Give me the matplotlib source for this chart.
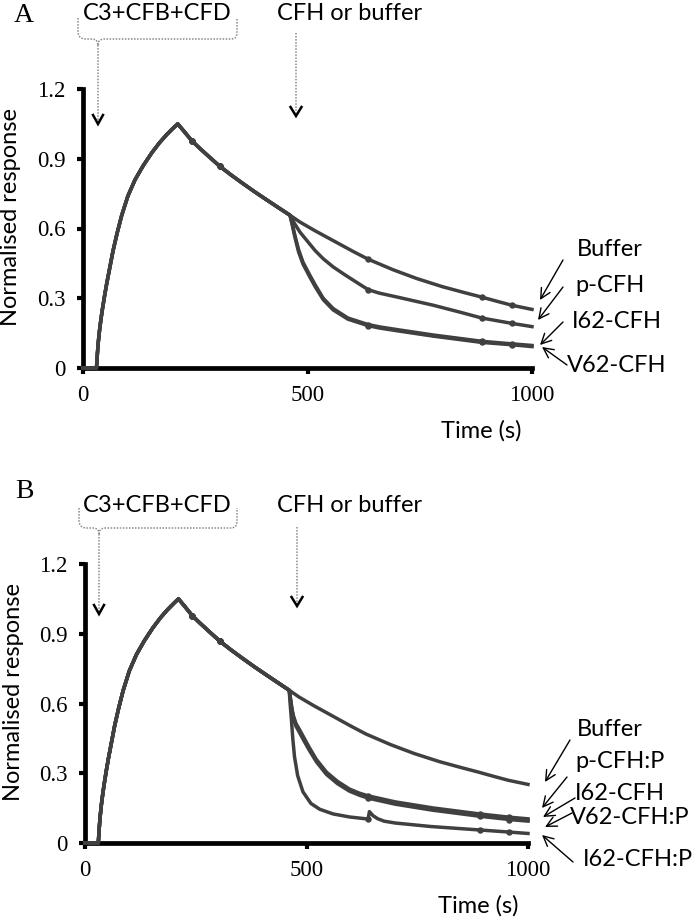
import matplotlib
matplotlib.use("Agg")
import matplotlib.pyplot as plt
from matplotlib.lines import Line2D

plt.rcParams["font.family"] = ["Liberation Serif", "DejaVu Serif"]
SANS = ["Lato", "DejaVu Sans"]

W, H = 693, 923
LINE = "#404040"

# association (C3+CFB+CFD) and dissociation up to CFH injection, same in both panels
t_pre = [0, 30, 32, 34, 37, 40, 43, 48, 53, 60, 67, 76, 86, 100, 116, 134, 153,
         170, 186, 200, 211, 225, 242, 260, 280, 305, 330, 355, 383, 410, 435, 461]
y_pre = [0, 0, 0.06, 0.11, 0.165, 0.21, 0.25, 0.31, 0.365, 0.435, 0.505, 0.58, 0.655,
         0.74, 0.81, 0.87, 0.925, 0.968, 1.003, 1.03, 1.05, 1.018, 0.978, 0.945,
         0.91, 0.867, 0.83, 0.795, 0.757, 0.722, 0.69, 0.657]

# after CFH or buffer injection
t_buf = [483, 517, 560, 600, 635, 690, 743, 800, 850, 888, 920, 955, 1000]
y_buf = [0.628, 0.59, 0.545, 0.503, 0.468, 0.423, 0.385, 0.35, 0.324, 0.305, 0.288, 0.270, 0.252]

# panel A
t_pcfh_a = [470, 483, 500, 517, 535, 557, 580, 600, 635, 660, 700, 780, 840, 888, 955, 1000]
y_pcfh_a = [0.625, 0.585, 0.545, 0.505, 0.47, 0.435, 0.405, 0.38, 0.337, 0.322, 0.305,
            0.27, 0.24, 0.215, 0.192, 0.178]
t_62_a = [466, 472, 480, 490, 505, 517, 535, 557, 590, 635, 660, 700, 780, 888, 955, 1000]
y_i62_a = [0.62, 0.57, 0.51, 0.455, 0.40, 0.358, 0.30, 0.256, 0.215, 0.187, 0.177,
           0.165, 0.142, 0.115, 0.104, 0.097]
y_v62_a = [0.615, 0.562, 0.50, 0.447, 0.392, 0.35, 0.294, 0.25, 0.21, 0.182, 0.172,
           0.16, 0.137, 0.11, 0.10, 0.092]

# panel B
t_mid_b = [464, 467, 470, 476, 485, 495, 505, 522, 545, 570, 597, 620, 639, 700, 785, 891, 958, 1000]
y_pcfhp_b = [0.62, 0.58, 0.55, 0.515, 0.485, 0.45, 0.415, 0.36, 0.305, 0.265, 0.232,
             0.214, 0.203, 0.177, 0.151, 0.125, 0.111, 0.104]
y_i62_b = [0.615, 0.575, 0.545, 0.51, 0.48, 0.445, 0.41, 0.356, 0.30, 0.26, 0.228,
           0.21, 0.198, 0.172, 0.146, 0.12, 0.106, 0.099]
y_v62p_b = [0.61, 0.57, 0.54, 0.503, 0.472, 0.437, 0.403, 0.35, 0.295, 0.255, 0.223,
            0.205, 0.193, 0.167, 0.141, 0.115, 0.101, 0.094]
t_i62p_b = [463, 466, 469, 473, 480, 492, 510, 530, 560, 597, 639, 642, 650, 660, 675,
            700, 780, 891, 958, 1000]
y_i62p_b = [0.60, 0.53, 0.45, 0.37, 0.29, 0.22, 0.17, 0.145, 0.125, 0.112, 0.103, 0.135,
            0.118, 0.105, 0.094, 0.086, 0.071, 0.056, 0.047, 0.041]

# little blips in the sensorgrams
marks_a = [242, 305, 635, 888, 955]
marks_b = [242, 305, 639, 891, 958]

labels_a = ["Buffer", "p-CFH", "I62-CFH", "V62-CFH"]
labels_b = ["Buffer", "p-CFH:P", "I62-CFH", "V62-CFH:P", "I62-CFH:P"]


def fx(x):
    return x / W


def fy(y):
    return 1 - y / H


fig = plt.figure(figsize=(W / 100, H / 100), dpi=100)
axA = fig.add_axes([fx(83), fy(368), 449 / W, 279 / H])
axB = fig.add_axes([fx(85), fy(843), 443 / W, 279 / H])


def style(ax):
    ax.set_xlim(0, 1000)
    ax.set_ylim(0, 1.2)
    ax.spines[["top", "right"]].set_visible(False)
    for s in ("left", "bottom"):
        ax.spines[s].set_linewidth(3.4)
    ax.set_xticks([0, 500, 1000])
    ax.set_yticks([0, 0.3, 0.6, 0.9, 1.2], ["0", "0.3", "0.6", "0.9", "1.2"])
    ax.tick_params(direction="out", length=4.5, width=3, pad=8, labelsize=16.5)
    ax.set_ylabel("Normalised response", family=SANS, fontsize=17)
    ax.set_xlabel("Time (s)", family=SANS, fontsize=17)
    ax.xaxis.set_label_coords(0.887, -0.186)
    ax.yaxis.set_label_coords(-0.138, 0.54)


def draw(ax, curves, marks):
    for t, y in curves:
        tt = t_pre + t
        yy = y_pre + y
        idx = [i for i, v in enumerate(tt) if v in marks]
        ax.plot(tt, yy, color=LINE, lw=2.5, marker="o", ms=3.6, markevery=idx,
                clip_on=False, zorder=5)


style(axA)
style(axB)
draw(axA, [(t_buf, y_buf), (t_pcfh_a, y_pcfh_a), (t_62_a, y_i62_a), (t_62_a, y_v62_a)], marks_a)
draw(axB, [(t_buf, y_buf), (t_mid_b, y_pcfhp_b), (t_mid_b, y_i62_b), (t_mid_b, y_v62p_b),
           (t_i62p_b, y_i62p_b)], marks_b)


def fig_line(xs, ys, **kw):
    fig.add_artist(Line2D([fx(x) for x in xs], [fy(y) for y in ys],
                          transform=fig.transFigure, **kw))


dot = dict(color="#8a8a8a", lw=1.1, linestyle=(0, (1, 1)))
chev = dict(color="black", lw=1.8, solid_joinstyle="miter")


def injections(top, mid, tip_y, cfh_top, cfh_tip, left, right, tip_x, cfh_x, text_y, letter, letter_y):
    fig.text(fx(24), fy(letter_y), letter, fontsize=20, ha="center", va="center")
    fig.text(fx(157), fy(text_y), "C3+CFB+CFD", family=SANS, fontsize=17, ha="center", va="center")
    fig.text(fx(350), fy(text_y), "CFH or buffer", family=SANS, fontsize=17, ha="center", va="center")
    fig_line([left, left, left + 1, left + 3, left + 6, tip_x - 5, tip_x - 2, tip_x - 0.5, tip_x],
             [top, mid - 6, mid - 3, mid - 1, mid, mid, mid + 1, mid + 3, mid + 6], **dot)
    fig_line([tip_x, tip_x + 0.5, tip_x + 2, tip_x + 5, right - 5, right - 2, right - 0.5, right, right],
             [mid + 6, mid + 3, mid + 1, mid, mid, mid - 1, mid - 3, mid - 6, top], **dot)
    fig_line([tip_x, tip_x], [mid + 6, tip_y - 1], **dot)
    fig_line([tip_x - 5, tip_x, tip_x + 5], [tip_y - 9, tip_y, tip_y - 9], **chev)
    fig_line([cfh_x, cfh_x], [cfh_top, cfh_tip - 1], **dot)
    fig_line([cfh_x - 5.5, cfh_x, cfh_x + 5.5], [cfh_tip - 9, cfh_tip, cfh_tip - 9], **chev)


injections(18, 39, 124, 33, 116, 78, 237, 98, 296, 14, "A", 15)
injections(508, 528, 614, 527, 606, 79, 237, 99, 297, 505, "B", 491)

# curve labels with pointer arrows (figure pixels, top-origin)
pos_a = [(577, 250), (575, 285), (572, 321), (567, 365)]
arr_a = [((563, 260), (540, 300)), ((563, 287), (538, 320)),
         ((563, 322), (540, 345)), ((567, 365), (542, 347))]
pos_b = [(577, 729), (575, 762), (575, 793), (570, 818), (583, 860)]
arr_b = [((570, 740), (545, 782)), ((567, 777), (542, 808)), ((575, 798), (543, 817)),
         ((572, 813), (545, 827)), ((573, 862), (542, 835))]

for labels, pos, arr in ((labels_a, pos_a, arr_a), (labels_b, pos_b, arr_b)):
    for lab, (x, y), (tail, tip) in zip(labels, pos, arr):
        fig.text(fx(x), fy(y), lab, family=SANS, fontsize=17, ha="left", va="center")
        fig.add_artist(matplotlib.patches.FancyArrowPatch(
            (fx(tail[0]), fy(tail[1])), (fx(tip[0]), fy(tip[1])),
            transform=fig.transFigure, arrowstyle="->,head_length=0.6,head_width=0.3",
            mutation_scale=12, lw=1, color="black", shrinkA=0, shrinkB=0))

fig.savefig("out.png", dpi=100)
